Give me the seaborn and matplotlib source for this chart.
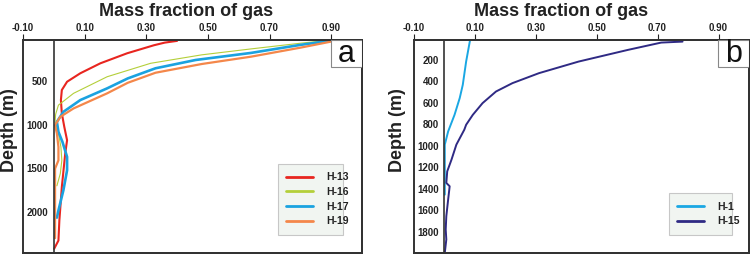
import numpy as np
import pandas as pd
import matplotlib
matplotlib.use("Agg")
import matplotlib.pyplot as plt
from matplotlib.patches import Rectangle
import seaborn as sns

# Panel a: depth (m) / mass fraction of gas
h13_depth = [40, 60, 90, 182, 297, 411, 508, 603, 718, 871, 1025, 1178, 1331, 1714, 2097, 2327, 2422]
h13_frac = [0.40, 0.36, 0.325, 0.238, 0.151, 0.086, 0.043, 0.026, 0.023, 0.026, 0.034, 0.043, 0.037, 0.026, 0.018, 0.015, 0.001]

h16_depth = [38, 45, 67, 132, 200, 297, 451, 641, 776, 880, 967, 1101, 1255, 1408, 1561, 1700]
h16_frac = [0.90, 0.86, 0.80, 0.64, 0.48, 0.314, 0.173, 0.064, 0.015, 0.006, 0.004, 0.015, 0.023, 0.026, 0.021, 0.010]

h17_depth = [36, 37, 86, 178, 259, 354, 470, 584, 718, 853, 967, 1082, 1197, 1369, 1523, 1752, 1982, 2065]
h17_frac = [0.955, 0.90, 0.80, 0.64, 0.46, 0.33, 0.24, 0.173, 0.086, 0.031, 0.010, 0.015, 0.028, 0.043, 0.043, 0.031, 0.015, 0.010]

h19_depth = [36, 48, 118, 221, 305, 405, 520, 641, 814, 910, 1005, 1101, 1255, 1408, 1504, 1714, 2300]
h19_frac = [0.934, 0.90, 0.80, 0.64, 0.48, 0.33, 0.24, 0.173, 0.064, 0.021, 0.004, 0.010, 0.015, 0.015, 0.004, 0.004, 0.004]

# Panel b
h1_depth = [14, 216, 433, 556, 712, 867, 990, 1200, 1456]
h1_frac = [0.085, 0.072, 0.061, 0.051, 0.034, 0.013, 0.002, 0.002, 0.002]

h15_depth = [30, 39, 107, 216, 324, 417, 495, 603, 712, 805, 851, 990, 1130, 1239, 1347, 1378, 1502, 1657, 1781, 1874, 1998]
h15_frac = [0.782, 0.712, 0.603, 0.441, 0.311, 0.224, 0.170, 0.126, 0.094, 0.072, 0.066, 0.040, 0.024, 0.010, 0.007, 0.018, 0.013, 0.007, 0.005, 0.007, 0.002]

x_ticks = [-0.10, 0.10, 0.30, 0.50, 0.70, 0.90]

colors_a = {"H-13": "#e8251f", "H-16": "#b4cf3a", "H-17": "#1aa2e0", "H-19": "#f4874a"}
widths_a = {"H-13": 1.5, "H-16": 0.8, "H-17": 1.9, "H-19": 1.6}
colors_b = {"H-1": "#1aa7e3", "H-15": "#2f2a84"}
widths_b = {"H-1": 1.4, "H-15": 1.4}


def long_df(series):
    rows = []
    for name, depth, frac in series:
        for d, f in zip(depth, frac):
            rows.append({"well": name, "depth": d, "frac": f})
    return pd.DataFrame(rows)


df_a = long_df([("H-13", h13_depth, h13_frac), ("H-16", h16_depth, h16_frac),
                ("H-17", h17_depth, h17_frac), ("H-19", h19_depth, h19_frac)])
df_b = long_df([("H-1", h1_depth, h1_frac), ("H-15", h15_depth, h15_frac)])

sns.set_style("white")
plt.rcParams["font.family"] = ["Liberation Sans", "DejaVu Sans"]

fig = plt.figure(figsize=(7.55, 2.59), dpi=100)
ax_a = fig.add_axes([23 / 755, 6 / 259, 339 / 755, 213 / 259])
ax_b = fig.add_axes([413.7 / 755, 6 / 259, 335.3 / 755, 213 / 259])


def style_panel(ax, df, colors, widths, ylim, yticks, letter, leg_box, title_x):
    for name, col in colors.items():
        sub = df[df["well"] == name]
        sns.lineplot(data=sub, x="frac", y="depth", sort=False, estimator=None,
                     color=col, lw=widths[name], label=name, ax=ax, orient="y")
    # y axis sits on x = 0, inside the box frame
    ax.spines["left"].set_position(("data", 0))
    ax.spines["left"].set_color("#333333")
    ax.spines["left"].set_linewidth(1.2)
    ax.spines["left"].set_visible(True)
    for s in ["top", "right", "bottom"]:
        ax.spines[s].set_visible(True)
        ax.spines[s].set_color("#333333")
        ax.spines[s].set_linewidth(1.4)
    ax.set_xlim(-0.10, 1.0)
    ax.set_ylim(*ylim)
    ax.xaxis.tick_top()
    ax.set_xticks(x_ticks)
    ax.set_xticklabels([f"{t:.2f}" for t in x_ticks], fontsize=7, fontweight="bold")
    ax.set_yticks(yticks)
    ax.set_yticklabels([str(t) for t in yticks], fontsize=7, fontweight="bold")
    ax.tick_params(axis="x", direction="out", length=4, width=0.8, pad=1, colors="#222222")
    ax.tick_params(axis="y", direction="out", length=3, width=0.8, pad=1, colors="#222222")
    ax.set_xlabel("")
    ax.set_ylabel("")
    ax.add_patch(Rectangle((0, 0), 1, 1, transform=ax.transAxes, fill=False,
                           edgecolor="#333333", lw=1.4, clip_on=False, zorder=5))
    # letter box
    ax.add_patch(Rectangle((0.909, 0.873), 0.091, 0.127, transform=ax.transAxes,
                           facecolor="white", edgecolor="#888888", lw=0.8, zorder=6))
    ax.text(0.955, 0.935, letter, transform=ax.transAxes, ha="center", va="center",
            fontsize=22, color="#111111", zorder=7)
    leg = ax.legend(loc="lower left", bbox_to_anchor=leg_box, mode="expand",
                    prop={"size": 7.5, "weight": "bold"}, handlelength=2.6,
                    labelspacing=0.45, frameon=True, fancybox=False,
                    borderpad=0.8, handletextpad=1.2)
    leg.get_frame().set_facecolor("#eef3ee")
    leg.get_frame().set_edgecolor("#bbbbbb")
    leg.get_frame().set_linewidth(0.8)
    for line in leg.get_lines():
        line.set_linewidth(2.0)
    for t in leg.get_texts():
        t.set_color("#222222")
    pos = ax.get_position()
    fig.text(pos.x0 + title_x * pos.width, 0.938, "Mass fraction of gas",
             ha="center", va="baseline", fontsize=13, fontweight="bold", color="#222222")


style_panel(ax_a, df_a, colors_a, widths_a, (2470, 30), [500, 1000, 1500, 2000], "a",
            (0.737, 0.061, 0.222, 0.324), 0.481)
style_panel(ax_b, df_b, colors_b, widths_b, (2000, 15),
            [200, 400, 600, 800, 1000, 1200, 1400, 1600, 1800], "b",
            (0.746, 0.061, 0.220, 0.174), 0.439)

fig.text(10 / 755, 1 - 130 / 259, "Depth (m)", rotation=90, ha="center", va="center",
         fontsize=13, fontweight="bold", color="#222222")
fig.text(397 / 755, 1 - 130 / 259, "Depth (m)", rotation=90, ha="center", va="center",
         fontsize=13, fontweight="bold", color="#222222")

fig.savefig("out.png", dpi=100)
